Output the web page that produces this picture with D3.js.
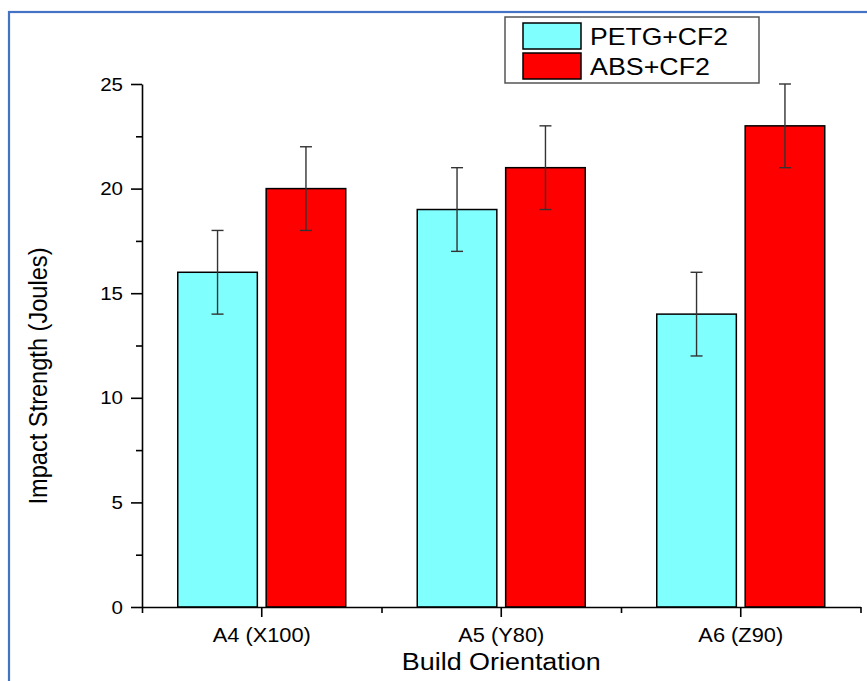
<!DOCTYPE html>
<html lang="en">
<head>
<meta charset="utf-8" />
<title>Impact Strength by Build Orientation</title>
<script src="https://d3js.org/d3.v7.min.js"></script>
<style>
  body { margin: 0; background: #fff; font-family: "Liberation Sans", Arial, sans-serif; }
  svg  { display: block; }
  .axis path, .axis line { stroke: #000; stroke-width: 1.6px; }
  .axis text { fill: #000; font-family: "Liberation Sans", Arial, sans-serif; }
</style>
</head>
<body>
<svg id="chart" width="867" height="681"></svg>
<script>
// ---- data ----
const categories = ["A4 (X100)", "A5 (Y80)", "A6 (Z90)"];
const series     = ["PETG+CF2", "ABS+CF2"];
const petgValues = [16, 19, 14];
const absValues  = [20, 21, 23];
const petgErrors = [2, 2, 2];
const absErrors  = [2, 2, 2];
const yTicks     = [0, 5, 10, 15, 20, 25];
const yMinor     = [2.5, 7.5, 12.5, 17.5, 22.5];

const colors = { "PETG+CF2": "#80ffff", "ABS+CF2": "#ff0000" };

const rows = [];
categories.forEach((c, i) => {
  rows.push({ cat: c, s: series[0], v: petgValues[i], e: petgErrors[i] });
  rows.push({ cat: c, s: series[1], v: absValues[i],  e: absErrors[i] });
});

// ---- layout ----
const svg = d3.select("#chart");
const plotL = 142, plotR = 860.5, plotT = 84, plotB = 607;

// blue frame around the figure
svg.append("rect")
  .attr("x", 9).attr("y", 12).attr("width", 900).attr("height", 700)
  .attr("fill", "none").attr("stroke", "#4472c4").attr("stroke-width", 2.2);

const x = d3.scaleBand().domain(categories).range([plotL, plotR]).padding(0);
const xSub = d3.scaleBand().domain(series).range([-84, 84]).paddingInner(0.1);
const y = d3.scaleLinear().domain([0, 25]).range([plotB, plotT]);

// stretch text a bit horizontally like the source figure
function stretch(sel, k) {
  sel.each(function () {
    const w = this.getComputedTextLength();
    d3.select(this).attr("textLength", w * k).attr("lengthAdjust", "spacingAndGlyphs");
  });
}

// ---- bars ----
const bars = svg.append("g");
bars.selectAll("rect")
  .data(rows)
  .join("rect")
    .attr("x", d => x(d.cat) + x.bandwidth() / 2 + xSub(d.s))
    .attr("y", d => y(d.v))
    .attr("width", xSub.bandwidth())
    .attr("height", d => y(0) - y(d.v))
    .attr("fill", d => colors[d.s])
    .attr("stroke", "#000")
    .attr("stroke-width", 1.5);

// ---- error bars ----
const errG = svg.append("g").attr("stroke", "#333").attr("stroke-width", 1.4);
rows.forEach(d => {
  const cx = x(d.cat) + x.bandwidth() / 2 + xSub(d.s) + xSub.bandwidth() / 2;
  errG.append("line").attr("x1", cx).attr("x2", cx)
    .attr("y1", y(d.v - d.e)).attr("y2", y(d.v + d.e));
  [d.v - d.e, d.v + d.e].forEach(v => {
    errG.append("line").attr("x1", cx - 6).attr("x2", cx + 6)
      .attr("y1", y(v)).attr("y2", y(v));
  });
});

// ---- axes ----
const yMinorAxis = svg.append("g").attr("class", "axis")
  .attr("transform", `translate(${plotL},0)`)
  .call(d3.axisLeft(y).tickValues(yMinor).tickSize(6).tickFormat(""));
yMinorAxis.select(".domain").remove();

const yAxis = svg.append("g").attr("class", "axis")
  .attr("transform", `translate(${plotL},0)`)
  .call(d3.axisLeft(y).tickValues(yTicks).tickSize(11).tickPadding(8).tickSizeOuter(0));
yAxis.selectAll("text").style("font-size", "19px").call(stretch, 1.08);

const xEdge = d3.scaleLinear().domain([0, categories.length]).range([plotL, plotR]);
const xMinorAxis = svg.append("g").attr("class", "axis")
  .attr("transform", `translate(0,${plotB})`)
  .call(d3.axisBottom(xEdge).ticks(categories.length).tickSize(6).tickFormat(""));
xMinorAxis.select(".domain").remove();

const xAxis = svg.append("g").attr("class", "axis")
  .attr("transform", `translate(0,${plotB})`)
  .call(d3.axisBottom(x).tickSize(10).tickPadding(11).tickSizeOuter(0));
xAxis.selectAll("text").style("font-size", "20px").call(stretch, 1.09);

// ---- axis titles ----
svg.append("text")
  .attr("x", (plotL + plotR) / 2).attr("y", 670)
  .attr("text-anchor", "middle")
  .style("font-size", "23.5px")
  .attr("textLength", 199).attr("lengthAdjust", "spacingAndGlyphs")
  .text("Build Orientation");

svg.append("text")
  .attr("transform", "translate(47,376) rotate(-90)")
  .attr("text-anchor", "middle")
  .style("font-size", "25px")
  .attr("textLength", 257).attr("lengthAdjust", "spacingAndGlyphs")
  .text("Impact Strength (Joules)");

// ---- legend ----
const legend = svg.append("g");
legend.append("rect")
  .attr("x", 505).attr("y", 17).attr("width", 254).attr("height", 66)
  .attr("fill", "#fff").attr("stroke", "#555").attr("stroke-width", 1.5);
const legendW = [138, 120];
series.forEach((s, i) => {
  legend.append("rect")
    .attr("x", 523).attr("y", 23 + i * 30).attr("width", 58).attr("height", 26)
    .attr("fill", colors[s]).attr("stroke", "#000").attr("stroke-width", 1.5);
  legend.append("text")
    .attr("x", 590).attr("y", 44.5 + i * 30)
    .style("font-size", "24px")
    .attr("textLength", legendW[i]).attr("lengthAdjust", "spacingAndGlyphs")
    .text(s);
});
</script>
</body>
</html>
